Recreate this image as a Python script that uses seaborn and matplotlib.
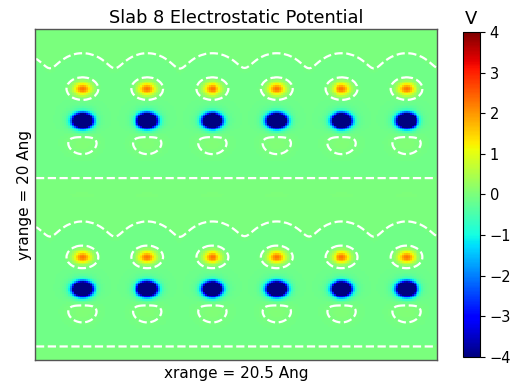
import numpy as np
import matplotlib
matplotlib.use("Agg")
import matplotlib.pyplot as plt
import seaborn as sns

# box size (Angstrom)
x_range = 20.5
y_range = 20.0

# atom columns (Angstrom from left)
atom_cols = [2.38, 5.70, 9.04, 12.34, 15.66, 18.99]
# the two slabs, the second one shifted down by one period
slab_offsets = [0.0, 10.22]
# rows inside one slab (Angstrom from top)
cation_y = 3.58
anion_y = 5.52
lobe_y = 6.79
slab_bottom = 8.92
# strengths (V)
vacuum_v = 0.0
slab_v = -0.12
cation_q = 2.4
anion_q = -15.0
anion_halo = -0.6
lobe_q = 0.20
level = -0.03
cbar_ticks = [-4, -3, -2, -1, 0, 1, 2, 3, 4]

nx, ny = 206, 201
xs = np.linspace(0, x_range, nx)
ys = np.linspace(0, y_range, ny)
X, Y = np.meshgrid(xs, ys)


def blob(x0, y0, sx, sy):
    return np.exp(-((X - x0) ** 2 / (2 * sx ** 2) + (Y - y0) ** 2 / (2 * sy ** 2)))


step = np.mean(np.diff(atom_cols))
wave_cols = [atom_cols[0] - step] + atom_cols + [atom_cols[-1] + step]

V = np.full_like(X, vacuum_v)
for dy in slab_offsets:
    # slab body: arched top edge over the atom columns, flat bottom edge
    yc = cation_y + dy
    Yc = np.minimum(Y, yc)
    g = [np.exp(-(X - c) ** 2 / (2 * 1.43 ** 2) - (Yc - yc) ** 2 / (2 * 1.76 ** 2))
         for c in wave_cols]
    cloud = sum(gi ** 4 for gi in g) ** 0.25
    top = 0.5 * (1 + np.tanh((cloud - 0.5) / 0.05))
    bottom = 0.5 * (1 - np.tanh((Y - slab_bottom - dy) / 0.15))
    V += slab_v * top * bottom
    for c in atom_cols:
        V += cation_q * blob(c, cation_y + dy, 0.316, 0.27)
        V += anion_q * blob(c, anion_y + dy, 0.28, 0.25)
        V += anion_halo * blob(c, anion_y + dy, 0.5, 0.5)
        V += lobe_q * blob(c, lobe_y + dy, 0.6, 0.6)

fig = plt.figure(figsize=(5.18, 3.89), dpi=100)
ax = fig.add_axes([0.0676, 0.0746, 0.776, 0.8508])
cax = fig.add_axes([0.8938, 0.0823, 0.0328, 0.8355])

sns.heatmap(V, ax=ax, cbar_ax=cax, cmap="jet", vmin=-4, vmax=4,
            xticklabels=False, yticklabels=False,
            cbar_kws={"ticks": cbar_ticks})
cbar = ax.collections[0].colorbar
ax.contour(np.arange(nx) + 0.5, np.arange(ny) + 0.5, V, levels=[level],
           colors="white", linestyles="dashed", linewidths=1.6)

for s in ax.spines.values():
    s.set_visible(True)
    s.set_color("#555555")
    s.set_linewidth(1.0)
cbar.outline.set_linewidth(0.8)
cax.tick_params(labelsize=10.5, length=3.5)

ax.set_title("Slab 8 Electrostatic Potential", fontsize=12.8, pad=4)
ax.set_xlabel("xrange = 20.5 Ang", fontsize=11)
ax.set_ylabel("yrange = 20 Ang", fontsize=11, labelpad=2)
cax.set_title("V", fontsize=13, pad=6)

fig.savefig("out.png", dpi=100)
